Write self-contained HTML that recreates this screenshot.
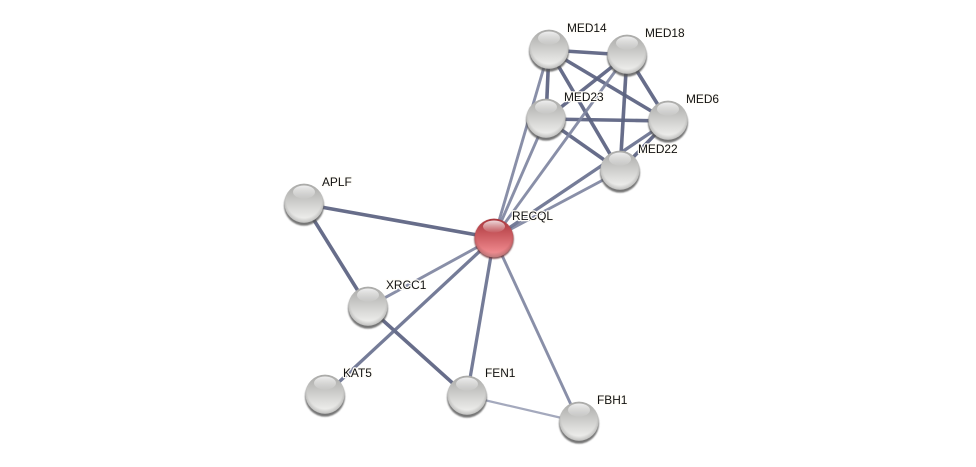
<!DOCTYPE html>
<html>
<head>
<meta charset="utf-8">
<style>
html,body{margin:0;padding:0;background:#fff;width:976px;height:467px;overflow:hidden}
svg{display:block}
text{font-family:"Liberation Sans",sans-serif;font-size:11.9px;fill:#111;paint-order:stroke;stroke:#fffdf8;stroke-width:2.5px;stroke-linejoin:round}
.d{stroke:#5a6280;stroke-width:3.6;stroke-opacity:.92}
.m{stroke:#69718f;stroke-width:3.3;stroke-opacity:.92}
.l{stroke:#7f86a1;stroke-width:2.9;stroke-opacity:.92}
.t{stroke:#a4a9bd;stroke-width:2.2}
</style>
</head>
<body>
<svg width="976" height="467" viewBox="0 0 976 467" xmlns="http://www.w3.org/2000/svg">
<defs>
<filter id="b1" x="-30%" y="-30%" width="160%" height="160%"><feGaussianBlur stdDeviation="0.9"/></filter>
<filter id="b2" x="-10%" y="-10%" width="120%" height="120%"><feGaussianBlur stdDeviation="0.35"/></filter>
<linearGradient id="gb" x1="0" y1="0" x2="0" y2="1">
<stop offset="0%" stop-color="#a9a9a7"/>
<stop offset="40%" stop-color="#c8c8c6"/>
<stop offset="80%" stop-color="#e6e6e4"/>
<stop offset="100%" stop-color="#f6f6f4"/>
</linearGradient>
<linearGradient id="r" x1="0" y1="0" x2="0" y2="1">
<stop offset="0%" stop-color="#a8363d"/>
<stop offset="40%" stop-color="#c9595e"/>
<stop offset="80%" stop-color="#e98186"/>
<stop offset="100%" stop-color="#f39a9d"/>
</linearGradient>
<linearGradient id="sh" x1="0" y1="0" x2="0" y2="1">
<stop offset="0%" stop-color="#fff" stop-opacity=".8"/>
<stop offset="100%" stop-color="#fff" stop-opacity=".05"/>
</linearGradient>
<radialGradient id="rim" cx="50%" cy="42%" r="58%">
<stop offset="78%" stop-color="#000" stop-opacity="0"/>
<stop offset="100%" stop-color="#000" stop-opacity=".22"/>
</radialGradient>
<g id="n">
<circle cx="0" cy="1.6" r="20" fill="#555" filter="url(#b1)" opacity=".8"/>
<circle cx="0" cy="-0.8" r="19.6" fill="url(#gb)"/>
<circle cx="0" cy="-0.8" r="19.6" fill="url(#rim)"/>
<ellipse cx="0" cy="-12" rx="11" ry="6.5" fill="url(#sh)" filter="url(#b2)"/>
</g>
<g id="nr">
<circle cx="0" cy="1.2" r="19.8" fill="#6b2a2e" filter="url(#b1)" opacity=".8"/>
<circle cx="0" cy="0" r="19.4" fill="url(#r)"/>
<circle cx="0" cy="0" r="19.4" fill="url(#rim)"/>
<ellipse cx="0" cy="-11.5" rx="11" ry="6" fill="url(#sh)" filter="url(#b2)"/>
</g>
</defs>

<g fill="none" filter="url(#b2)">
<line class="d" x1="549" y1="50" x2="627" y2="55"/>
<line class="d" x1="549" y1="50" x2="546" y2="119"/>
<line class="d" x1="549" y1="50" x2="668" y2="121"/>
<line class="d" x1="549" y1="50" x2="620" y2="171"/>
<line class="d" x1="627" y1="55" x2="546" y2="119"/>
<line class="d" x1="627" y1="55" x2="668" y2="121"/>
<line class="d" x1="627" y1="55" x2="620" y2="171"/>
<line class="d" x1="546" y1="119" x2="668" y2="121"/>
<line class="d" x1="546" y1="119" x2="620" y2="171"/>
<line class="d" x1="668" y1="121" x2="620" y2="171"/>

<line class="l" x1="494" y1="238" x2="549" y2="50"/>
<line class="l" x1="494" y1="238" x2="546" y2="119"/>
<line class="l" x1="494" y1="238" x2="627" y2="55"/>
<line class="l" x1="494" y1="238" x2="620" y2="171"/>
<line class="m" x1="494" y1="238" x2="668" y2="121"/>

<line class="d" x1="304" y1="204" x2="494" y2="238"/>
<line class="d" x1="304" y1="204" x2="368" y2="307"/>
<line class="l" x1="368" y1="307" x2="494" y2="238"/>
<line class="d" x1="368" y1="307" x2="467" y2="396"/>
<line class="m" x1="325" y1="395" x2="494" y2="238"/>
<line class="m" x1="467" y1="396" x2="494" y2="238"/>
<line class="l" x1="579" y1="422" x2="494" y2="238"/>
<line class="t" x1="467" y1="396" x2="579" y2="422"/>
</g>

<use href="#n" x="549" y="50"/>
<use href="#n" x="627" y="55"/>
<use href="#n" x="546" y="119"/>
<use href="#n" x="668" y="121"/>
<use href="#n" x="620" y="171"/>
<use href="#n" x="304" y="204"/>
<use href="#n" x="368" y="307"/>
<use href="#n" x="325" y="395"/>
<use href="#n" x="467" y="396"/>
<use href="#n" x="579" y="422"/>
<use href="#nr" x="494" y="238"/>

<text x="567" y="32">MED14</text>
<text x="645" y="37">MED18</text>
<text x="564" y="101">MED23</text>
<text x="686" y="103">MED6</text>
<text x="638" y="153">MED22</text>
<text x="322" y="186">APLF</text>
<text x="512" y="220">RECQL</text>
<text x="386" y="289">XRCC1</text>
<text x="343" y="377">KAT5</text>
<text x="485" y="377">FEN1</text>
<text x="597" y="404">FBH1</text>
</svg>
</body>
</html>
